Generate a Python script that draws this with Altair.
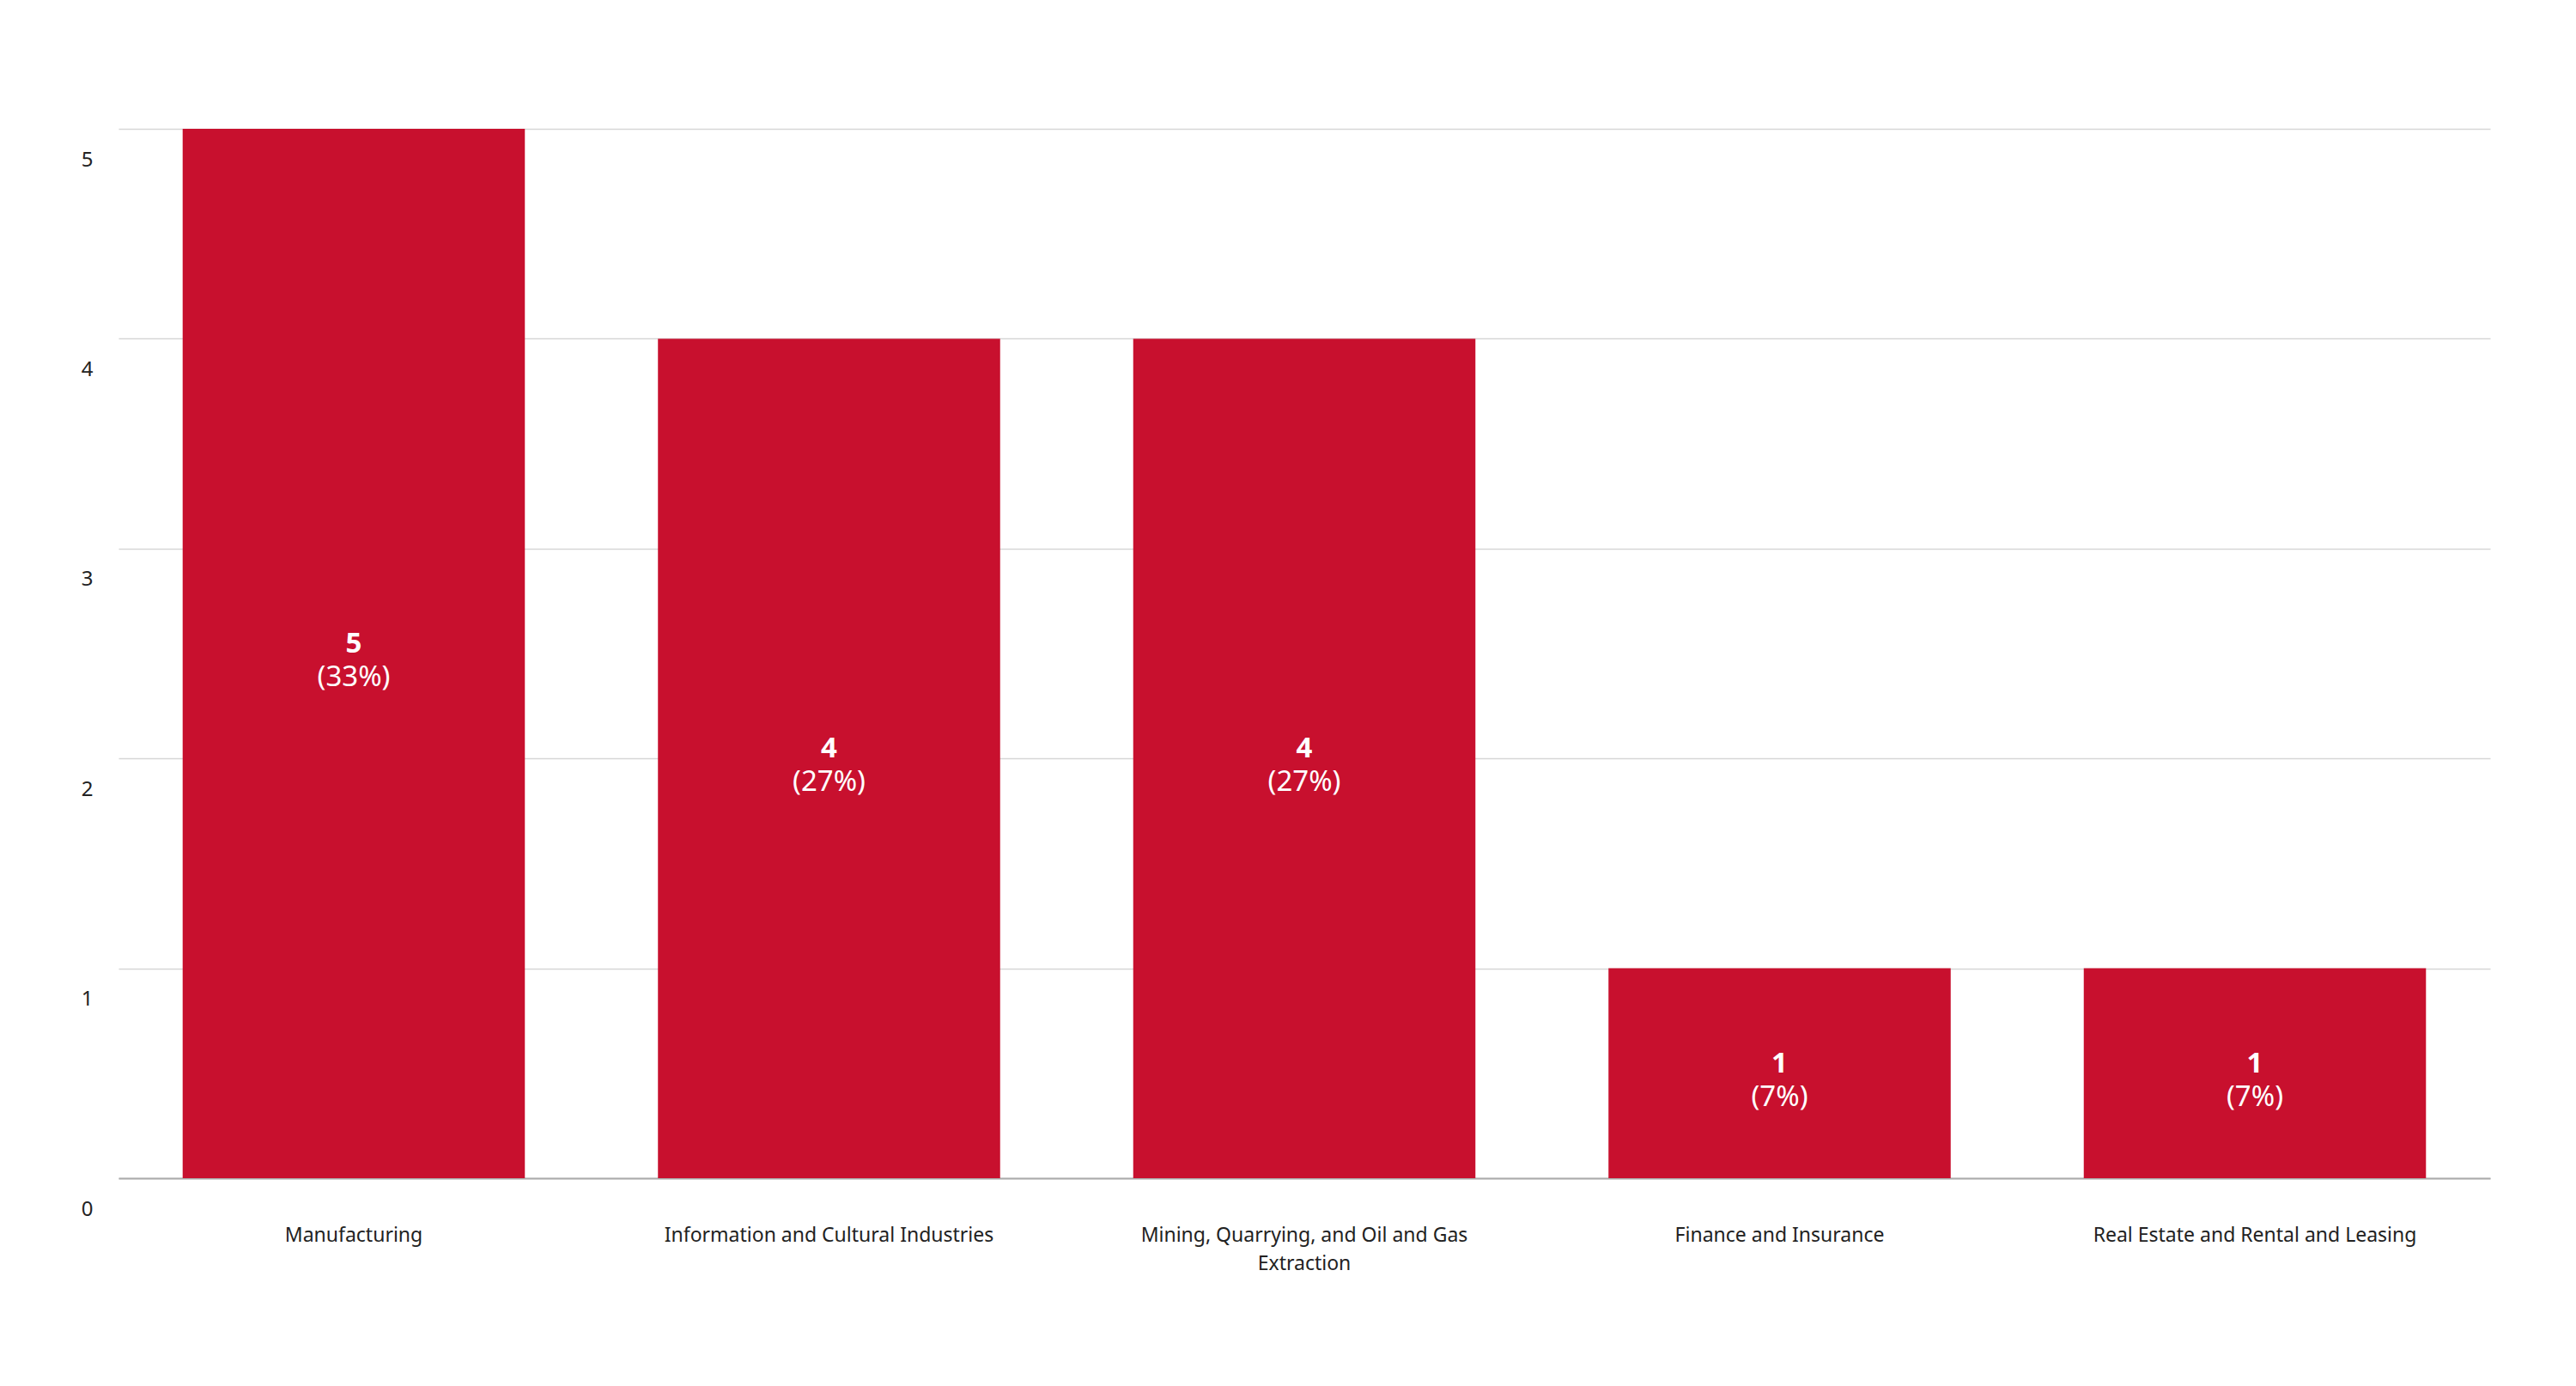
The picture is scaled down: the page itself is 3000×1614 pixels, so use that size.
import altair as alt
import pandas as pd

# Values
industries = [
    "Manufacturing",
    "Information and Cultural Industries",
    "Mining, Quarrying, and Oil and Gas Extraction",
    "Finance and Insurance",
    "Real Estate and Rental and Leasing",
]
counts = [5, 4, 4, 1, 1]
shares = ["(33%)", "(27%)", "(27%)", "(7%)", "(7%)"]

df = pd.DataFrame({"industry": industries, "count": counts, "share": shares})

FONT = "Noto Sans"
RED = "#C8102E"

# Long label wraps onto two lines like in the reference
label_expr = (
    "datum.value == 'Mining, Quarrying, and Oil and Gas Extraction' "
    "? ['Mining, Quarrying, and Oil and Gas', 'Extraction'] : datum.value"
)

x_enc = alt.X(
    "industry:N",
    sort=industries,
    title=None,
    scale=alt.Scale(paddingInner=0.28, paddingOuter=0.135),
    axis=alt.Axis(
        labelAngle=0,
        labelFont=FONT,
        labelFontSize=23,
        labelColor="#222222",
        labelLineHeight=33,
        labelPadding=55,
        labelExpr=label_expr,
        labelLimit=600,
        ticks=False,
        domainColor="#aaaaaa",
        domainWidth=2,
        grid=False,
    ),
)

y_enc = alt.Y(
    "count:Q",
    title=None,
    scale=alt.Scale(domain=[0, 5], nice=False),
    axis=alt.Axis(
        values=[0, 1, 2, 3, 4, 5],
        format="d",
        labelFont=FONT,
        labelFontSize=24,
        labelColor="#222222",
        labelPadding=30,
        labelOffset=36,
        labelBaseline="middle",
        labelOverlap=False,
        ticks=False,
        domain=False,
        gridColor="#d6d6d6",
        gridWidth=1.5,
    ),
)

base = alt.Chart(df).transform_calculate(mid="datum.count / 2")

bars = base.mark_bar(color=RED).encode(x=x_enc, y=y_enc)

value_text = base.mark_text(
    color="white", font=FONT, fontSize=33, fontWeight="bold", baseline="middle", dy=-11
).encode(
    x=alt.X("industry:N", sort=industries),
    y=alt.Y("mid:Q"),
    text=alt.Text("count:Q", format="d"),
)

share_text = base.mark_text(
    color="white", font=FONT, fontSize=33, baseline="middle", dy=28
).encode(
    x=alt.X("industry:N", sort=industries),
    y=alt.Y("mid:Q"),
    text="share:N",
)

chart = (
    alt.layer(bars, value_text, share_text)
    .properties(
        width=2762,
        height=1222,
        padding={"left": 130, "top": 142, "right": 84, "bottom": 220},
        autosize=alt.AutoSizeParams(type="none"),
        background="white",
    )
    .configure_view(stroke=None)
)

chart.save("out.html", embed_options={"renderer": "svg", "actions": False})
